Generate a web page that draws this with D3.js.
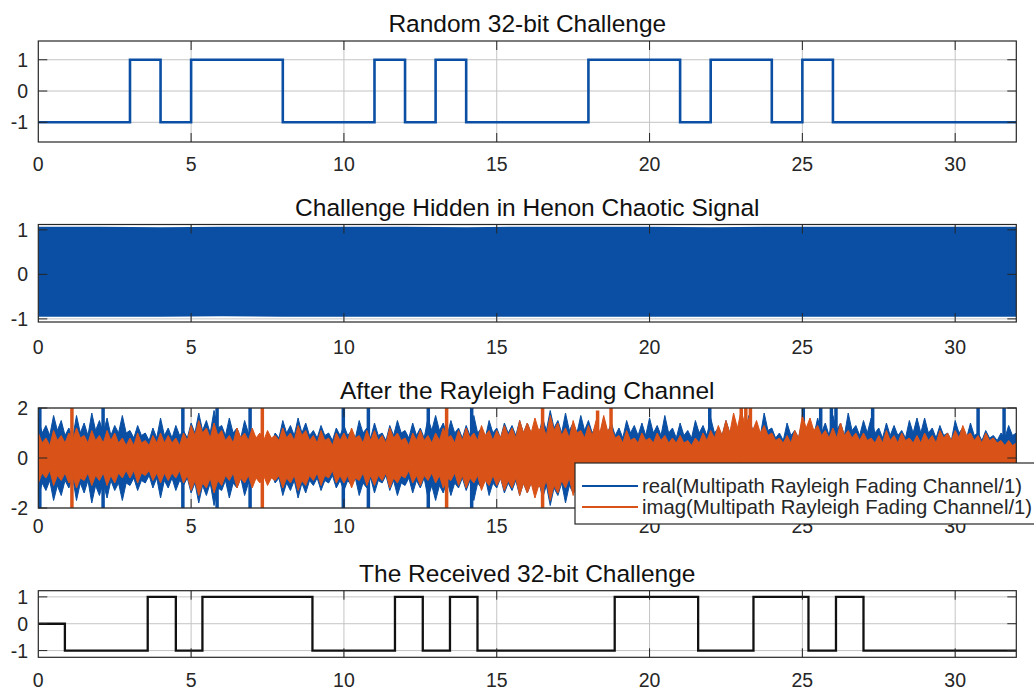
<!DOCTYPE html>
<html>
<head>
<meta charset="utf-8">
<script src="https://cdn.jsdelivr.net/npm/d3@7"></script>
<style>
  body { margin: 0; background: #fff; }
  svg { display: block; }
  text { font-family: "Liberation Sans", Arial, Helvetica, sans-serif; fill: #262626; }
</style>
</head>
<body>
<svg id="fig" width="1034" height="691"></svg>
<script>
// ---- data ----------------------------------------------------------------
const xTicks = [0, 5, 10, 15, 20, 25, 30];

// transmitted challenge, one level per bit (bit k spans [k, k+1))
const challengeBits = [-1, -1, -1, 1, -1, 1, 1, 1, -1, -1, -1, 1, -1, 1, -1, -1,
                       -1, -1, 1, 1, 1, -1, 1, 1, -1, 1, -1, -1, -1, -1, -1, -1];

// recovered challenge: level holds from each edge to the next
const receivedEdges  = [0, 0.87, 3.58, 4.5, 5.37, 8.97, 11.67, 12.58, 13.47, 14.37,
                        18.86, 21.59, 23.4, 25.2, 26.1, 27.0, 32];
const receivedLevels = [0, -1, 1, -1, 1, -1, 1, -1, 1, -1, 1, -1, 1, -1, 1, -1, -1];

// envelope of the Henon-masked signal
const henonTime  = [0, 2, 4, 6, 8, 10, 12, 14, 16, 18, 20, 22, 24, 26, 28, 30, 32];
const henonUpper = [1.07, 1.07, 1.06, 1.07, 1.07, 1.07, 1.07, 1.06, 1.07, 1.07, 1.07, 1.06, 1.07, 1.07, 1.07, 1.07, 1.07];
const henonLower = [-0.95, -0.95, -0.95, -0.94, -0.95, -0.95, -0.95, -0.95, -0.95, -0.95, -0.95, -0.95, -0.95, -0.95, -0.95, -0.95, -0.95];

// faded channel output: peak magnitude every 0.125 time units (one row per time unit)
const fadingStep = 0.125;
const realPeak = [
  1.6,1.0,1.3,0.9,1.7,1.1,1.5,0.9,
  1.2,0.8,1.7,1.0,1.4,0.9,1.8,1.1,
  1.5,1.0,1.6,0.9,1.3,1.0,1.7,1.0,
  1.1,0.8,1.3,0.9,1.0,0.7,1.2,0.8,
  1.6,0.9,1.2,0.8,1.3,0.9,1.1,0.8,
  1.4,1.0,1.8,1.1,1.5,1.0,1.9,1.2,
  1.3,0.9,1.6,1.0,1.2,0.8,1.5,1.0,
  1.0,0.7,0.8,0.6,0.9,0.6,1.0,0.8,
  1.5,1.0,1.3,0.9,1.6,1.0,1.4,0.9,
  1.1,0.8,1.3,0.9,1.0,0.7,1.2,0.9,
  1.3,0.9,1.1,0.8,1.5,1.0,1.2,0.8,
  1.4,0.9,1.0,0.7,1.3,0.9,1.5,1.0,
  1.1,0.8,1.4,0.9,1.2,0.8,1.6,1.1,
  1.7,1.1,1.4,0.9,1.5,1.0,1.2,0.8,
  1.3,0.9,1.7,1.0,1.2,0.8,1.5,1.0,
  1.2,0.8,1.4,1.0,1.3,0.9,1.5,1.0,
  1.4,1.0,1.2,0.9,1.6,1.1,1.9,1.2,
  1.5,1.0,1.8,1.1,1.4,1.0,1.7,1.1,
  1.5,1.0,1.3,0.9,1.6,1.0,1.4,0.9,
  1.2,0.8,1.5,1.0,1.3,0.9,1.4,0.9,
  1.6,1.0,1.3,0.9,1.7,1.0,1.2,0.8,
  1.4,0.9,1.1,0.8,1.5,1.0,1.3,0.9,
  1.6,1.0,1.2,0.9,1.5,1.0,1.3,0.9,
  1.4,1.0,1.7,1.1,1.3,0.9,1.8,1.1,
  1.2,0.8,1.0,0.7,1.4,0.9,1.1,0.8,
  1.5,1.0,1.3,0.9,1.6,1.0,1.4,0.9,
  1.7,1.1,1.4,0.9,1.8,1.1,1.3,0.9,
  1.5,1.0,1.6,1.0,1.2,0.8,1.4,0.9,
  1.3,0.9,1.1,0.8,1.5,1.0,1.6,1.0,
  1.6,1.0,1.2,0.8,1.3,0.9,1.0,0.7,
  1.5,1.0,1.2,0.8,1.4,0.9,1.0,0.7,
  1.1,0.8,0.9,0.7,1.0,0.8,1.3,0.9,
  1.0
];
const imagPeak = [
  1.0,0.6,0.8,0.5,1.1,0.7,0.9,0.6,
  1.0,0.7,1.2,0.8,0.9,0.6,1.1,0.7,
  0.9,0.6,1.1,0.7,1.0,0.6,0.8,0.5,
  0.8,0.5,1.0,0.6,0.7,0.5,0.9,0.6,
  1.0,0.6,0.9,0.6,0.8,0.5,1.0,0.7,
  1.3,0.9,1.5,1.0,1.2,0.8,1.4,0.9,
  1.1,0.7,0.9,0.6,1.2,0.8,1.0,0.7,
  1.2,0.8,1.0,0.7,1.1,0.8,0.9,0.7,
  1.2,0.8,1.0,0.7,1.3,0.9,1.1,0.7,
  0.9,0.6,1.1,0.7,0.8,0.5,1.0,0.7,
  1.0,0.7,1.2,0.8,0.9,0.6,1.1,0.7,
  1.1,0.7,0.9,0.6,1.2,0.8,1.0,0.7,
  0.8,0.5,1.0,0.7,1.1,0.7,0.9,0.6,
  1.0,0.7,1.2,0.8,0.9,0.6,1.1,0.7,
  1.2,0.8,1.0,0.7,1.3,0.9,1.1,0.7,
  1.1,0.8,1.3,0.9,1.2,0.8,1.5,1.0,
  1.4,1.0,1.6,1.1,1.3,0.9,1.7,1.1,
  1.4,0.9,1.2,0.8,1.5,1.0,1.1,0.8,
  1.3,0.9,1.5,1.0,1.7,1.1,1.2,0.8,
  0.9,0.6,1.1,0.7,0.8,0.6,1.0,0.7,
  0.8,0.6,1.0,0.7,0.9,0.6,0.8,0.6,
  0.9,0.6,0.7,0.5,0.8,0.6,1.0,0.7,
  1.1,0.8,1.3,0.9,1.5,1.0,1.8,1.2,
  1.9,1.3,1.6,1.1,1.5,1.0,1.3,0.9,
  1.0,0.7,0.8,0.6,0.9,0.6,1.1,0.8,
  1.7,1.2,1.6,1.1,1.3,0.9,1.1,0.8,
  1.2,0.8,1.4,0.9,1.1,0.8,1.0,0.7,
  1.0,0.7,0.8,0.6,0.9,0.6,1.1,0.7,
  0.9,0.6,1.0,0.7,0.8,0.6,0.9,0.6,
  1.0,0.7,0.9,0.6,1.1,0.8,1.0,0.7,
  1.1,0.8,1.3,0.9,1.0,0.7,0.9,0.6,
  1.0,0.7,0.8,0.6,0.7,0.5,0.7,0.5,
  0.6
];
// isolated deep bursts: [time, peak magnitude]
const realBursts = [[0.05, 2.1], [2.12, 2.1], [4.73, 2.1], [5.85, 2.1], [6.93, 2.1], [9.98, 2.1],
                    [10.8, 2.1], [12.76, 2.1], [14.18, 2.1], [21.97, 2.1], [25.03, 2.1], [25.6, 2.1],
                    [25.95, 2.1], [26.1, 2.1], [27.3, 2.1], [30.75, 2.1], [31.6, 2.1]];
const imagBursts = [[1.1, 2.1], [7.33, 2.1], [13.36, 2.1], [16.5, 2.1], [18.3, 1.9], [18.74, 2.1],
                    [23.0, 2.1], [23.15, 2.1], [23.3, 2.1]];

const panelTitles = ["Random 32-bit Challenge", "Challenge Hidden in Henon Chaotic Signal",
                     "After the Rayleigh Fading Channel", "The Received 32-bit Challenge"];
const legendLabels = ["real(Multipath Rayleigh Fading Channel/1)", "imag(Multipath Rayleigh Fading Channel/1)"];

// ---- layout ----------------------------------------------------------------
const BLUE = "#0a4fa3", ORANGE = "#D95319", AXIS = "#262626", GRID = "#c4c4c4";
const svg = d3.select("#fig");
const x = d3.scaleLinear().domain([0, 32]).range([38.3, 1016.3]);

const panels = [
  { top: 41,    bottom: 142,   y: [-1.63, 1.6],  yTicks: [-1, 0, 1], labelGap: 28.5 },
  { top: 224.5, bottom: 322,   y: [-1.07, 1.12], yTicks: [-1, 0, 1], labelGap: 32 },
  { top: 408,   bottom: 508,   y: [-2, 2],       yTicks: [-2, 0, 2], labelGap: 25 },
  { top: 590.7, bottom: 657.3, y: [-1.25, 1.23], yTicks: [-1, 0, 1], labelGap: 29.5 }
];

function frame(i) {
  const p = panels[i];
  const y = d3.scaleLinear().domain(p.y).range([p.bottom, p.top]);
  const g = svg.append("g");
  // grid
  g.append("g").selectAll("line").data(xTicks.filter(t => t > 0)).join("line")
    .attr("x1", d => x(d)).attr("x2", d => x(d)).attr("y1", p.top).attr("y2", p.bottom)
    .attr("stroke", GRID).attr("stroke-width", 1);
  g.append("g").selectAll("line").data(p.yTicks).join("line")
    .attr("x1", x(0)).attr("x2", x(32)).attr("y1", d => y(d)).attr("y2", d => y(d))
    .attr("stroke", GRID).attr("stroke-width", 1);
  const clipId = "clip" + i;
  svg.append("clipPath").attr("id", clipId).append("rect")
    .attr("x", x(0)).attr("y", p.top).attr("width", x(32) - x(0)).attr("height", p.bottom - p.top);
  const plot = g.append("g").attr("clip-path", `url(#${clipId})`);
  return { p, y, g, plot, finish };
  function finish() {
    const a = svg.append("g");
    const tl = 9;
    // inward tick marks on all four sides
    a.selectAll(".xb").data(xTicks.filter(t => t > 0)).join("line").attr("class", "xb")
      .attr("x1", d => x(d)).attr("x2", d => x(d)).attr("y1", p.bottom).attr("y2", p.bottom - tl)
      .attr("stroke", AXIS);
    a.selectAll(".xt").data(xTicks.filter(t => t > 0)).join("line").attr("class", "xt")
      .attr("x1", d => x(d)).attr("x2", d => x(d)).attr("y1", p.top).attr("y2", p.top + tl)
      .attr("stroke", AXIS);
    a.selectAll(".yl").data(p.yTicks).join("line").attr("class", "yl")
      .attr("x1", x(0)).attr("x2", x(0) + tl).attr("y1", d => y(d)).attr("y2", d => y(d))
      .attr("stroke", AXIS);
    a.selectAll(".yr").data(p.yTicks).join("line").attr("class", "yr")
      .attr("x1", x(32)).attr("x2", x(32) - tl).attr("y1", d => y(d)).attr("y2", d => y(d))
      .attr("stroke", AXIS);
    a.append("rect").attr("x", x(0)).attr("y", p.top)
      .attr("width", x(32) - x(0)).attr("height", p.bottom - p.top)
      .attr("fill", "none").attr("stroke", AXIS).attr("stroke-width", 1.2);
    // tick labels
    a.selectAll(".xl").data(xTicks).join("text").attr("class", "xl")
      .attr("x", d => x(d)).attr("y", p.bottom + p.labelGap)
      .attr("text-anchor", "middle").attr("font-size", 19.5).text(d => d);
    a.selectAll(".ylab").data(p.yTicks).join("text").attr("class", "ylab")
      .attr("x", 28).attr("y", d => y(d)).attr("dy", "0.36em")
      .attr("text-anchor", "end").attr("font-size", 19.5).text(d => d);
    a.append("text").attr("x", (x(0) + x(32)) / 2).attr("y", p.top - 9)
      .attr("text-anchor", "middle").attr("font-size", 24.5).style("fill", "#111")
      .text(panelTitles[i]);
    return a;
  }
}

// ---- panel 1: transmitted bits ----------------------------------------------
{
  const f = frame(0);
  const pts = challengeBits.map((b, k) => [k, b]).concat([[32, challengeBits[31]]]);
  f.plot.append("path").datum(pts)
    .attr("d", d3.line().x(d => x(d[0])).y(d => f.y(d[1])).curve(d3.curveStepAfter))
    .attr("fill", "none").attr("stroke", BLUE).attr("stroke-width", 2.6);
  f.finish();
}

// ---- panel 2: Henon-masked signal -------------------------------------------
{
  const f = frame(1);
  const band = henonTime.map((t, k) => ({ t, hi: henonUpper[k], lo: henonLower[k] }));
  f.plot.append("path").datum(band)
    .attr("d", d3.area().x(d => x(d.t)).y0(d => f.y(d.lo)).y1(d => f.y(d.hi)))
    .attr("fill", BLUE);
  f.finish();
}

// ---- panel 3: after the fading channel --------------------------------------
{
  const f = frame(2);
  const env = peaks => peaks.map((v, k) => ({ t: k * fadingStep, v }));
  const area = d3.area().x(d => x(d.t)).y0(d => f.y(-d.v)).y1(d => f.y(d.v));
  const draw = (peaks, bursts, color) => {
    f.plot.append("path").datum(env(peaks)).attr("d", area)
      .attr("fill", color).attr("stroke", color).attr("stroke-width", 1).attr("stroke-linejoin", "miter");
    f.plot.append("g").selectAll("line").data(bursts).join("line")
      .attr("x1", d => x(d[0])).attr("x2", d => x(d[0]))
      .attr("y1", d => f.y(d[1])).attr("y2", d => f.y(-d[1]))
      .attr("stroke", color).attr("stroke-width", 3.5);
  };
  draw(realPeak, realBursts, BLUE);
  draw(imagPeak, imagBursts, ORANGE);
  f.finish();

  // legend
  const lg = svg.append("g");
  lg.append("rect").attr("x", 575).attr("y", 463).attr("width", 470).attr("height", 61)
    .attr("fill", "#fff").attr("stroke", AXIS).attr("stroke-width", 1.2);
  const rows = [{ label: legendLabels[0], color: BLUE, y: 486 }, { label: legendLabels[1], color: ORANGE, y: 507 }];
  lg.selectAll("line").data(rows).join("line")
    .attr("x1", 582).attr("x2", 638).attr("y1", d => d.y).attr("y2", d => d.y)
    .attr("stroke", d => d.color).attr("stroke-width", 2.2);
  lg.selectAll("text").data(rows).join("text")
    .attr("x", 642).attr("y", d => d.y).attr("dy", "0.36em").attr("font-size", 20.3)
    .text(d => d.label);
}

// ---- panel 4: recovered bits ------------------------------------------------
{
  const f = frame(3);
  const pts = receivedEdges.map((t, k) => [t, receivedLevels[k]]);
  f.plot.append("path").datum(pts)
    .attr("d", d3.line().x(d => x(d[0])).y(d => f.y(d[1])).curve(d3.curveStepAfter))
    .attr("fill", "none").attr("stroke", "#111").attr("stroke-width", 2.3);
  f.finish();
}
</script>
</body>
</html>
